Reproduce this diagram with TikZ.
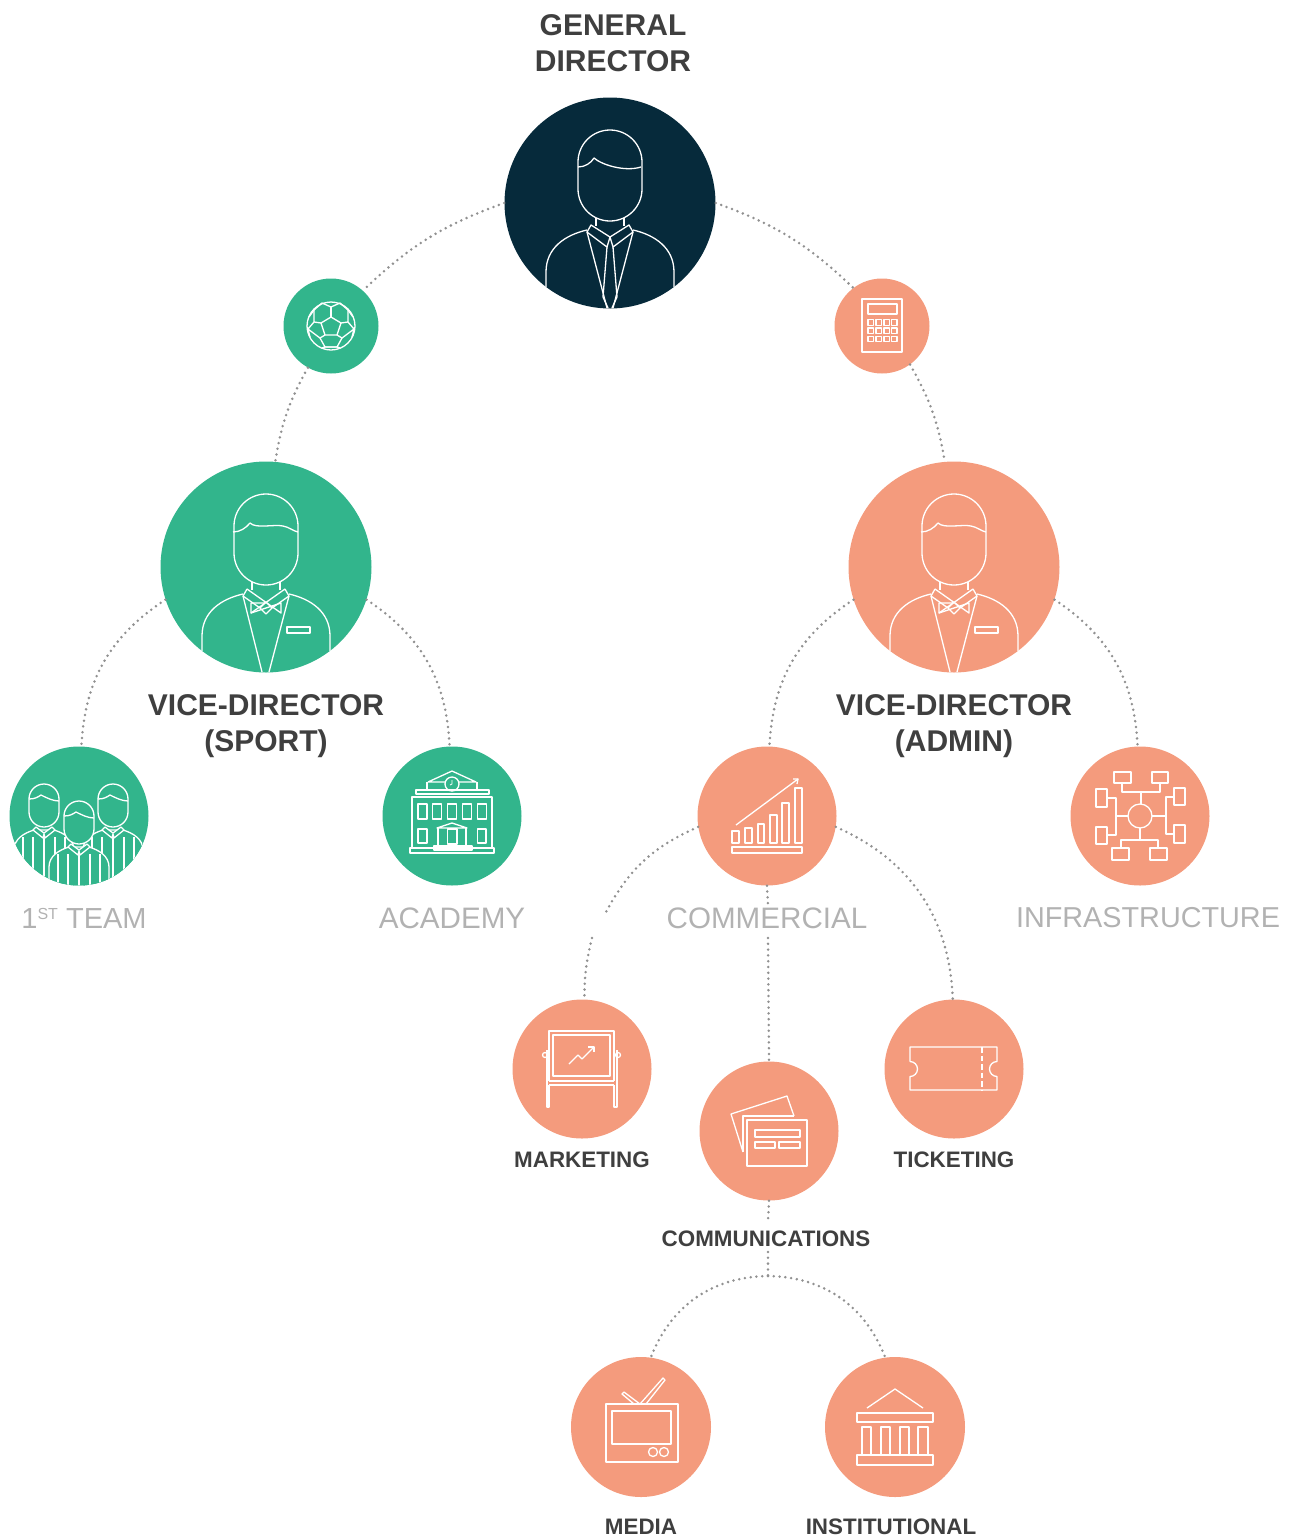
\documentclass[tikz,border=0pt]{standalone}
\usepackage{fontspec}
\setmainfont{Liberation Sans}
\usepackage{tikz}
\usepackage{xcolor}
\definecolor{navyc}{HTML}{062A3B}
\definecolor{greenc}{HTML}{32B58C}
\definecolor{salmonc}{HTML}{F49B7D}
\definecolor{darktext}{HTML}{3F3F3F}
\definecolor{greytext}{HTML}{B2B2B2}
\tikzset{
	bigdisc/.style={circle,minimum size=211pt,inner sep=0pt},
	middisc/.style={circle,minimum size=139pt,inner sep=0pt},
	smalldisc/.style={circle,minimum size=95pt,inner sep=0pt},
	icon/.style={draw=white,line width=1.3pt,line join=round},
	dots/.style={draw=black!43,line width=2.8pt,line cap=round,dash pattern=on 0pt off 5.8pt},
	headtext/.style={text=darktext,align=center,font=\fontsize{30}{36.5}\selectfont\bfseries},
	greytag/.style={text=greytext,font=\fontsize{29.6}{36}\selectfont},
	smalltag/.style={text=darktext,font=\fontsize{22.4}{28}\selectfont\bfseries}
}
% the head and shoulders of the two director figures
\newcommand{\manbase}{
	\draw[icon] (-32,-41) arc (180:360:32) -- (32,-14) arc (0:180:32) -- cycle;
	\draw[icon] (-14,15) -- (-14,23) (14,15) -- (14,23);
	\draw[icon] (-64,84) -- (-64,69) .. controls (-64,45) and (-45,32) .. (-23,27);
	\draw[icon] (64,84) -- (64,69) .. controls (64,45) and (45,32) .. (23,27);
}
% one man of the team, (#1,#2) is the top of his head
\newcommand{\squadman}[2]{
	\begin{scope}[shift={(#1,#2)}]
		\filldraw[icon,fill=greenc] (-30,140) -- (-30,66) .. controls (-30,55) and (-20,49) .. (-10,46) -- (10,46) .. controls (20,49) and (30,55) .. (30,66) -- (30,140) -- cycle;
		\foreach \sx in {-21,-11,0,11,21}
			\draw[icon] (\sx,53) -- (\sx,140);
		\filldraw[icon,fill=greenc] (-15,15) arc (180:360:15) -- (15,28) arc (0:180:15) -- cycle;
		\draw[icon] (-15,15) .. controls (-9,15) and (-6,13) .. (-3,11) .. controls (3,14) and (9,17) .. (15,17);
		\filldraw[icon,fill=greenc] (-11,46) -- (-8,43) -- (0,49) -- (8,43) -- (11,46) -- (1,54) -- (0,50) -- (-1,54) -- cycle;
	\end{scope}
}
\begin{document}
\begin{tikzpicture}[x=1pt,y=-1pt]
	\useasboundingbox (0,0) rectangle (1298,1540);
	% discs
	\node[bigdisc,fill=navyc] (gd) at (610,203) {};
	\node[smalldisc,fill=greenc] (ball) at (331,326) {};
	\node[smalldisc,fill=salmonc] (calc) at (882,326) {};
	\node[bigdisc,fill=greenc] (vsport) at (266,567) {};
	\node[bigdisc,fill=salmonc] (vadmin) at (954,567) {};
	\node[middisc,fill=greenc] (team) at (79,816) {};
	\node[middisc,fill=greenc] (acad) at (452,816) {};
	\node[middisc,fill=salmonc] (comm) at (767,816) {};
	\node[middisc,fill=salmonc] (infra) at (1140,816) {};
	\node[middisc,fill=salmonc] (mark) at (582,1069) {};
	\node[middisc,fill=salmonc] (comms) at (769,1131) {};
	\node[middisc,fill=salmonc] (tick) at (954,1069) {};
	\node[middisc,minimum size=140pt,fill=salmonc] (media) at (641,1427) {};
	\node[middisc,minimum size=140pt,fill=salmonc] (inst) at (895,1427) {};
	% free ends of the connectors
	\coordinate (markgapa) at (606,912);
	\coordinate (markgapb) at (592,938);
	\coordinate (commgapa) at (768,905);
	\coordinate (commgapb) at (768,938);
	\coordinate (forkgapa) at (768,1222);
	\coordinate (forkgapb) at (768,1252);
	\coordinate (fork) at (768,1276);
	% connectors
	\draw[dots] (gd.180) to[bend right=12] (ball.48);
	\draw[dots] (gd.0) to[bend left=12] (calc.127);
	\draw[dots] (ball.241) to[bend right=10] (vsport.85);
	\draw[dots] (calc.-54) to[bend left=10] (vadmin.95);
	\draw[dots] (vsport.198) to[bend right=27] (team.88);
	\draw[dots] (vsport.-18) to[bend left=27] (acad.92);
	\draw[dots] (vadmin.198) to[bend right=27] (comm.88);
	\draw[dots] (vadmin.-18) to[bend left=27] (infra.92);
	\draw[dots] (comm.189) to[bend right=19] (markgapa);
	\draw[dots] (markgapb) to[bend right=7] (mark.88);
	\draw[dots] (comm.-9) to[bend left=32] (tick.91);
	\draw[dots] (comm.-90) -- (commgapa);
	\draw[dots] (commgapb) -- (comms.90);
	\draw[dots] (comms.-90) -- (forkgapa);
	\draw[dots] (forkgapb) -- (fork);
	\draw[dots] (fork) to[bend right=34] (media.82);
	\draw[dots] (fork) to[bend left=34] (inst.98);
	% labels
	\node[headtext] (gdlabel) at (613,43) {GENERAL\\DIRECTOR};
	\node[headtext] (vsportlabel) at (266,726) {VICE-DIRECTOR\\(SPORT)};
	\node[headtext] (vadminlabel) at (954,726) {VICE-DIRECTOR\\(ADMIN)};
	\node[greytag,font=\fontsize{29}{36}\selectfont] (teamlabel) at (84,918) {1\raisebox{9pt}{\fontsize{16}{16}\selectfont ST} TEAM};
	\node[greytag] (acadlabel) at (452,918) {ACADEMY};
	\node[greytag] (commlabel) at (767,918) {COMMERCIAL};
	\node[greytag,font=\fontsize{28.8}{36}\selectfont] (infralabel) at (1148,918) {INFRASTRUCTURE};
	\node[smalltag] (marklabel) at (582,1160) {MARKETING};
	\node[smalltag] (ticklabel) at (954,1160) {TICKETING};
	\node[smalltag] (commslabel) at (766,1239) {COMMUNICATIONS};
	\node[smalltag] (medialabel) at (641,1527) {MEDIA};
	\node[smalltag] (instlabel) at (891,1527) {INSTITUTIONAL};
	% general director
	\begin{scope}[shift={(gd)}]
		\manbase
		\draw[icon] (-32,-36) .. controls (-25,-36) and (-19,-40) .. (-16,-45) .. controls (-8,-38) and (15,-31) .. (31,-36);
		\draw[icon] (-19,22) -- (0,34) -- (19,22) -- (23,29) -- (3,44) -- (0,34) -- (-3,44) -- (-23,29) -- cycle;
		\draw[icon] (-23,29) -- (-3,105) (23,29) -- (3,105);
		\draw[icon] (-3,44) -- (-7,94) -- (-2,105) (3,44) -- (7,94) -- (2,105);
	\end{scope}
	% vice-directors
	\foreach \boss in {vsport,vadmin}{
		\begin{scope}[shift={(\boss)}]
			\manbase
			\draw[icon] (-33,-35) .. controls (-26,-35) and (-20,-39) .. (-16,-44) .. controls (-10,-38) and (8,-43) .. (17,-41) .. controls (23,-40) and (27,-36) .. (32,-35);
			\draw[icon] (-19,22) -- (15,46) -- (15,36) -- (-15,46) -- (-15,36) -- (-1,36);
			\draw[icon] (19,22) -- (-15,46) (-23,29) -- (-19,22) (23,29) -- (19,22);
			\draw[icon] (-23,29) -- (-6,41) (23,29) -- (6,41) (0,35) -- (6,41) -- (0,47) -- (-6,41) -- cycle;
			\draw[icon] (-23,29) -- (-4,105) (23,29) -- (3,105);
			\draw[icon] (21,60) rectangle (44,66);
		\end{scope}
	}
	% first team
	\begin{scope}[shift={(team)}]
		\clip (0,0) circle (69.5);
		\squadman{-35}{-32}
		\squadman{34}{-32}
		\squadman{0}{-15}
	\end{scope}
	% academy
	\begin{scope}[shift={(acad)}]
		\draw[icon] (-24,-34) -- (0,-45) -- (24,-34) -- (-24,-34);
		\draw[icon] (-25,-34) -- (-25,-26) (25,-34) -- (25,-26);
		\filldraw[icon,fill=greenc] (0,-32) circle (7);
		\draw[icon,line width=.8pt] (0,-36) -- (0,-32) -- (-2,-31);
		\draw[icon] (-36,-26) rectangle (37,-22);
		\draw[icon] (-40,32) -- (-40,-19) -- (40,-19) -- (40,32);
		\draw[icon] (-42,32) rectangle (42,37);
		\foreach \wx in {-34,-19.5,-4.5,10.5,25.5}
			\draw[icon] (\wx,-12) rectangle ++(9,15);
		\draw[icon] (-34,13) rectangle (-25,27);
		\draw[icon] (25.5,13) rectangle (34,27);
		\draw[icon] (-4.5,13) rectangle (5,28);
		\draw[icon] (-15,12) -- (0,7) -- (15,12) -- cycle;
		\draw[icon] (-14,12) -- (-14,30) (14,12) -- (14,30);
		\draw[icon] (-18,30) rectangle (20,34);
	\end{scope}
	% commercial
	\begin{scope}[shift={(comm)}]
		\draw[icon] (-35,15) rectangle (-28,27);
		\draw[icon] (-22,12) rectangle (-15,27);
		\draw[icon] (-9,8) rectangle (-3,27);
		\draw[icon] (3,-1) rectangle (10,27);
		\draw[icon] (15,-13) rectangle (22,27);
		\draw[icon] (28,-28) rectangle (35,27);
		\draw[icon] (-35,31) rectangle (35,37);
		\draw[icon] (-31,9) -- (31,-37);
		\draw[icon] (26,-37) -- (31,-37) -- (30,-32);
	\end{scope}
	% infrastructure
	\begin{scope}[shift={(infra)}]
		\draw[icon] (0,0) circle (12);
		\draw[icon] (-26,-44) rectangle (-9,-33);
		\draw[icon] (12,-44) rectangle (28,-33);
		\draw[icon] (-28,32) rectangle (-11,44);
		\draw[icon] (10,32) rectangle (27,44);
		\draw[icon] (-44,-27) rectangle (-33,-9);
		\draw[icon] (-44,11) rectangle (-33,28);
		\draw[icon] (34,-28) rectangle (45,-11);
		\draw[icon] (34,9) rectangle (45,27);
		\draw[icon] (-18,-33) -- (-18,-24) -- (20,-24) -- (20,-33) (1,-24) -- (1,-12);
		\draw[icon] (-19,32) -- (-19,24) -- (18,24) -- (18,32) (0,24) -- (0,12);
		\draw[icon] (-33,-18) -- (-24,-18) -- (-24,19) -- (-33,19) (-24,0) -- (-12,0);
		\draw[icon] (34,-19) -- (26,-19) -- (26,18) -- (34,18) (26,0) -- (12,0);
	\end{scope}
	% marketing
	\begin{scope}[shift={(mark)}]
		\draw[icon] (-33,12) -- (-33,-38) -- (32,-38) -- (32,12);
		\draw[icon] (-29,-34) rectangle (28,7);
		\draw[icon] (-33,12) -- (32,12) (-33,16) -- (32,16);
		\draw[icon] (-33,16) -- (-33,38) -- (-35,38) -- (-35,-19) (32,16) -- (32,38) -- (35,38) -- (35,-19);
		\draw[icon] (-37,-14) circle (2.5) (36,-14) circle (2.5);
		\draw[icon] (-13,-5) -- (-4,-14) -- (0,-10) -- (12,-22);
		\draw[icon] (6,-22) -- (12,-22) -- (12,-17);
	\end{scope}
	% communications
	\begin{scope}[shift={(comms)}]
		\draw[icon] (-26,21) -- (-38,-17) -- (18,-35) -- (25,-15);
		\draw[icon] (-26,21) -- (-26,-15) -- (25,-15);
		\filldraw[icon,fill=salmonc] (-22,-11) rectangle (38,35);
		\draw[icon] (-14,-1) rectangle (31,6);
		\draw[icon] (-14,11) rectangle (6,17);
		\draw[icon] (10,11) rectangle (31,17);
	\end{scope}
	% ticketing
	\begin{scope}[shift={(tick)}]
		\draw[icon] (-44,-7.5) -- (-44,-22) -- (43,-22) -- (43,-7.5) arc (-90:-270:7.5) -- (43,21) -- (-44,21) -- (-44,7.5) arc (90:-90:7.5);
		\draw[icon,dash pattern=on 5.5pt off 3pt] (28,-22) -- (28,21);
	\end{scope}
	% media
	\begin{scope}[shift={(media)}]
		\draw[icon] (-35,-23) rectangle (37,35);
		\draw[icon] (-29,-16) rectangle (30,17);
		\draw[icon] (12,25) circle (4.5) (23,25) circle (4.5);
		\draw[icon] (-7,-23) -- (-19,-33) -- (-17,-35) -- (-1,-23) -- (22,-49) -- (24,-47) -- (5,-23);
	\end{scope}
	% institutional
	\begin{scope}[shift={(inst)}]
		\draw[icon] (-28,-19) -- (0,-38) -- (28,-19);
		\draw[icon] (-38,-14) rectangle (38,-5);
		\draw[icon] (-33,0) rectangle (-24,28);
		\draw[icon] (-14,0) rectangle (-5,28);
		\draw[icon] (5,0) rectangle (14,28);
		\draw[icon] (23,0) rectangle (33,28);
		\draw[icon] (-38,28) rectangle (38,38);
	\end{scope}
	% ball
	\begin{scope}[shift={(ball)}]
		\draw[icon] (0,0) circle (24);
		\draw[icon] (0,-9) -- (10,-3) -- (6,9) -- (-6,9) -- (-10,-3) -- cycle;
		\draw[icon] (0,-9) -- (0,-19);
		\foreach \sd in {1,-1}{
			\begin{scope}[xscale=\sd]
				\draw[icon] (0,-19) -- (-9,-23) -- (-17,-16) -- (-17,-4) -- (-10,-3);
				\draw[icon] (-17,-16) -- (-22,-9);
				\draw[icon] (-17,-4) -- (-23,3) -- (-21,11) (-23,3) -- (-11,12) -- (-6,9);
				\draw[icon] (-11,12) -- (-6,21) -- (6,21) (-6,21) -- (-9,22);
			\end{scope}
		}
	\end{scope}
	% calculator
	\begin{scope}[shift={(calc)}]
		\draw[icon] (-20,-27) rectangle (20,26);
		\draw[icon] (-14,-22) rectangle (15,-12);
		\foreach \kx in {-14,-6,2,9.5}
			\foreach \ky in {-6.3,2,10.3}
				\draw[icon] (\kx,\ky) rectangle ++(5.5,5.5);
	\end{scope}
\end{tikzpicture}
\end{document}
